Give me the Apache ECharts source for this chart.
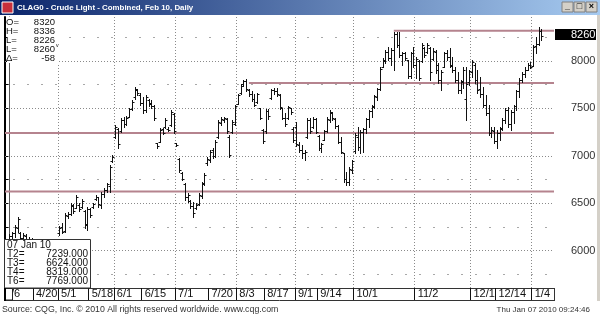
<!DOCTYPE html>
<html><head><meta charset="utf-8">
<script src="https://cdn.jsdelivr.net/npm/echarts@6/dist/echarts.min.js"></script>
<style>html,body{margin:0;padding:0;background:#fff;overflow:hidden}#c{width:600px;height:317px}</style>
</head><body><div id="c"></div>
<script>
// ---- data (CLAG0 daily OHLC, 6 Apr 2009 .. 7 Jan 2010), one line per month ----
const openP = [
 6090,6150,6180,6240,6180,6130,6150,6090,6040,6040,5880,5900,5990,5960,5990,5880,5950,6060,
 6180,6250,6210,6360,6390,6470,6450,6480,6460,6420,6280,6440,6460,6540,6560,6480,6600,6640,6680,6950,
 7200,7280,7260,7380,7340,7410,7490,7620,7690,7640,7560,7480,7590,7560,7520,7130,7150,7280,7300,7280,7320,7440,
 7130,6970,6820,6700,6560,6520,6470,6450,6490,6580,6700,6920,6960,7060,7000,7200,7350,7380,7390,7200,7250,7340,
 7550,7660,7760,7790,7690,7650,7600,7570,7500,7270,7260,7470,7610,7690,7680,7640,7500,7400,7400,7500,7280,
 7300,7110,7060,7030,7200,7380,7300,7390,7210,7080,7170,7260,7380,7450,7390,7310,7150,7029,6760,6720,6850,
 7050,7200,7090,7250,7280,7390,7470,7510,7620,7700,7940,8000,8100,8030,8120,8280,8170,8060,8080,8010,7840,8080,
 7960,8000,8000,8140,8100,8140,8020,8100,7960,7800,7940,8080,8040,7960,7900,7800,7690,7790,7600,7780,
 7880,7960,7800,7700,7650,7540,7450,7240,7260,7160,7240,7290,7380,7480,7330,7460,7520,7680,7800,7860,7910,7960,
 7950,8160,8180,8320
];
const highP = [
 6170,6196,6270,6354,6196,6185,6170,6143,6133,6060,5950,6020,6050,6070,6020,5950,6080,6100,
 6260,6290,6396,6407,6502,6490,6586,6500,6540,6430,6460,6449,6502,6586,6565,6618,6660,6713,6903,7008,
 7325,7295,7399,7410,7420,7504,7589,7726,7700,7660,7620,7641,7600,7590,7536,7135,7293,7293,7399,7300,7483,7451,
 7135,6980,6830,6715,6607,6534,6512,6500,6607,6725,6818,6985,7061,7082,7167,7378,7409,7409,7399,7220,7378,7540,
 7652,7757,7800,7810,7705,7684,7652,7662,7504,7283,7494,7494,7705,7715,7715,7652,7504,7451,7525,7504,7300,
 7360,7145,7114,7061,7399,7399,7409,7399,7219,7135,7272,7409,7483,7462,7399,7325,7198,7029,6829,6882,6955,
 7240,7304,7272,7293,7399,7483,7536,7641,7715,7937,8032,8116,8148,8137,8306,8306,8306,8095,8095,8011,8095,8148,
 8042,8011,8190,8148,8190,8148,8137,8116,7979,7905,8095,8116,8137,8042,7937,7884,7800,7937,7937,7905,
 8011,7979,7905,7831,7726,7641,7536,7304,7304,7272,7304,7399,7504,7515,7483,7536,7694,7821,7884,7937,7979,7989,
 8169,8250,8359,8336
];
const lowP = [
 6060,6133,6143,6200,6111,6090,6060,6020,5990,5850,5800,5880,5930,5920,5850,5820,5930,5980,
 6160,6185,6200,6344,6375,6396,6449,6420,6449,6240,6217,6354,6449,6534,6460,6449,6565,6618,6618,6934,
 7190,7082,7250,7300,7325,7409,7483,7600,7640,7540,7451,7462,7530,7500,7378,7082,7145,7230,7293,7260,7315,7240,
 7100,6830,6745,6534,6512,6450,6354,6440,6480,6555,6692,6900,6934,6977,6987,7188,7325,7360,7240,6987,7240,7325,
 7546,7652,7740,7684,7630,7578,7526,7560,7388,7135,7240,7388,7600,7650,7630,7494,7388,7314,7388,7441,7150,
 7100,7040,6977,6955,7188,7240,7293,7240,7061,7040,7167,7251,7356,7378,7293,7135,7029,6723,6692,6692,6818,
 7029,7061,7029,7040,7240,7304,7409,7504,7589,7694,7937,7979,8011,7958,7905,8148,8042,7958,8011,7821,7821,7937,
 7821,7800,7989,8042,8084,7800,8011,7873,7768,7694,7937,8011,7937,7884,7778,7662,7662,7715,7378,7747,
 7831,7768,7662,7620,7515,7430,7219,7198,7135,7082,7167,7272,7346,7304,7272,7346,7483,7620,7778,7831,7905,7926,
 7942,8084,8170,8226
];
const closeP = [
 6150,6185,6250,6330,6130,6160,6080,6040,6100,5870,5900,5990,5960,6040,5880,5920,6060,6010,
 6240,6200,6370,6390,6480,6420,6560,6440,6520,6270,6440,6380,6490,6570,6490,6600,6640,6700,6880,6990,
 7300,7120,7380,7330,7400,7490,7570,7700,7660,7560,7480,7620,7550,7520,7400,7100,7270,7240,7380,7272,7460,7260,
 7110,6850,6760,6560,6590,6470,6400,6480,6590,6710,6800,6970,7040,7000,7150,7360,7390,7400,7260,7010,7360,7520,
 7640,7740,7790,7700,7650,7600,7540,7650,7400,7160,7470,7420,7690,7680,7650,7510,7400,7340,7510,7460,7170,
 7120,7060,7030,7040,7380,7260,7390,7250,7080,7120,7260,7390,7460,7400,7310,7150,7040,6760,6720,6860,6940,
 7220,7090,7250,7280,7390,7470,7520,7630,7700,7920,8010,8100,8030,8120,8280,8170,8060,8080,8030,7840,8080,7960,
 8020,7820,8170,8060,8170,7880,8110,7900,7800,7880,8080,8040,7950,7900,7800,7690,7780,7900,7760,7890,
 7990,7800,7690,7650,7540,7450,7240,7270,7160,7240,7280,7380,7480,7330,7460,7520,7680,7800,7860,7900,7960,7936,
 8151,8177,8318,8260
];
// x-axis tick labels and the bar index (trading day) each one marks
const tickLabels = ['/6','4/20','5/1','5/18','6/1','6/15','7/1','7/20','8/3','8/17','9/1','9/14','10/1','11/2','12/1','12/14','1/4'];
const tickIndex  = [0,9,18,29,38,48,60,72,82,92,103,111,124,146,166,175,188];
const monthStartIndex = [18,38,60,82,103,124,146,166,188];
const priceTicks = [6000,6500,7000,7500,8000];
const minorLevels = [5750,6250,6750,7250,7750,8250];
const trendNames  = ['T2','T3','T4','T6'];
const trendLevels = [7239,6624,8319,7769];
const trendStart  = [null,null,138,86];   // bar where a level line starts (null = whole width)
const snapshotDate = '07 Jan 10';

// ---- layout ----
const FONT = '"Liberation Sans", Arial, sans-serif';
const X_MIN = -1.54, X_MAX = 195.5, Y_MIN = 5605, Y_MAX = 8464;
const GRID = {left:5, right:46, top:17, bottom:29};
const BAR = '#111111', TREND = '#b5838e', GRIDC = '#8a8a8a';

const chart = echarts.init(document.getElementById('c'), null, {renderer:'canvas'});
const rows = openP.map((o,i)=>[i, o, highP[i], lowP[i], closeP[i]]);
const tickPos = tickIndex.map(i=>i-0.5);

function renderOHLC(params, api){
  const i = api.value(0);
  const pO = api.coord([i, api.value(1)]);
  const pH = api.coord([i, api.value(2)]);
  const pL = api.coord([i, api.value(3)]);
  const pC = api.coord([i, api.value(4)]);
  const x = Math.round(pH[0]) + 0.5;
  const yO = Math.round(pO[1]) + 0.5, yC = Math.round(pC[1]) + 0.5;
  const st = {stroke: BAR, lineWidth: 1};
  return {type:'group', children:[
    {type:'line', shape:{x1:x, y1:Math.round(pH[1]), x2:x, y2:Math.round(pL[1])+1}, style:st},
    {type:'line', shape:{x1:x-2, y1:yO, x2:x, y2:yO}, style:st},
    {type:'line', shape:{x1:x, y1:yC, x2:x+2, y2:yC}, style:st}
  ]};
}

const gridMarks = []
  .concat(priceTicks.map(v=>({yAxis:v, lineStyle:{color:GRIDC, width:1, type:[1,2]}})))
  .concat(minorLevels.map(v=>({yAxis:v, lineStyle:{color:'#a8a8a8', width:1, type:[2,12], dashOffset:6}})))
  .concat(monthStartIndex.map(i=>({xAxis:i-0.5, lineStyle:{color:GRIDC, width:1, type:[1,2]}})));

const trendSeries = trendLevels.map((lv,k)=>({
  type:'line', name:trendNames[k], silent:true, symbol:'none', z:2, animation:false,
  data:[[trendStart[k]===null ? X_MIN : trendStart[k], lv],[X_MAX, lv]],
  lineStyle:{color:TREND, width:2}
}));

chart.setOption({
  animation:false,
  backgroundColor:'#ffffff',
  grid:{left:GRID.left, right:GRID.right, top:GRID.top, bottom:GRID.bottom, show:false},
  xAxis:{type:'value', min:X_MIN, max:X_MAX, splitLine:{show:false},
    axisLine:{show:true, onZero:false, lineStyle:{color:'#333', width:1}},
    axisTick:{show:true, inside:false, length:12, customValues:tickPos, lineStyle:{color:'#111'}},
    axisLabel:{customValues:tickPos, align:'left', verticalAlign:'middle', margin:6, padding:[0,0,0,3],
      fontSize:11, fontFamily:FONT, color:'#111',
      formatter:(v)=>{const k=tickPos.indexOf(v); return k>=0?tickLabels[k]:'';}}
  },
  yAxis:[
    {type:'value', position:'right', min:Y_MIN, max:Y_MAX, splitLine:{show:false},
      axisLine:{show:true, lineStyle:{color:'#555', width:1}},
      axisTick:{show:true, inside:true, length:3, customValues:minorLevels.concat(priceTicks), lineStyle:{color:'#555'}},
      axisLabel:{customValues:priceTicks, margin:17, fontSize:11, fontFamily:FONT, color:'#333',
        formatter:(v)=> (v%500===0 ? String(v) : '')}},
    {type:'value', position:'left', min:Y_MIN, max:Y_MAX, splitLine:{show:false},
      axisLine:{show:true, lineStyle:{color:'#000', width:2}},
      axisTick:{show:true, inside:true, length:3, customValues:minorLevels.concat(priceTicks), lineStyle:{color:'#000'}},
      axisLabel:{show:false}}
  ],
  series:[
    {type:'custom', name:'CLAG0', renderItem:renderOHLC, data:rows, z:3, clip:true,
     encode:{x:0, y:[1,2,3,4]}, silent:true,
     markLine:{silent:true, symbol:'none', z:1, animation:false, label:{show:false}, data:gridMarks}}
  ].concat(trendSeries)
});

// ---- overlay: window chrome, info panels, price flag ----
const last = closeP.length-1;
const yLast = chart.convertToPixel({yAxisIndex:0}, closeP[last]);
const txt = (id,x,y,text,opt)=>Object.assign({type:'text', id, x, y, z:110, silent:true,
  style:Object.assign({text, fill:'#111', font:'10px '+FONT, align:'left', verticalAlign:'middle'}, opt||{})});
const g = [];
// title bar
g.push({type:'rect', id:'tb', z:100, shape:{x:0,y:0,width:600,height:15},
  style:{fill:new echarts.graphic.LinearGradient(0,0,1,0,[{offset:0,color:'#0a246a'},{offset:1,color:'#a6caf0'}])}});
g.push({type:'rect', id:'icon', z:101, shape:{x:2,y:2,width:11,height:11}, style:{fill:'#c8303a', stroke:'#ffffff', lineWidth:1}});
g.push(txt('ttl',17,8,'CLAG0 - Crude Light - Combined, Feb 10, Daily',{fill:'#ffffff', font:'bold 7.9px '+FONT}));
['_','\u25A1','\u00D7'].forEach((s,k)=>{
  g.push({type:'rect', id:'btn'+k, z:101, shape:{x:562+k*12,y:2,width:11,height:10}, style:{fill:'#d4d0c8', stroke:'#808080', lineWidth:1}});
  g.push(txt('btt'+k,567.5+k*12,7,s,{align:'center', font:'bold 9px '+FONT, fill:'#000'}));
});
// right frame edge
g.push({type:'rect', id:'rf', z:100, shape:{x:597,y:15,width:3,height:286}, style:{fill:'#d4d0c8'}});
// top-left quote panel
g.push({type:'rect', id:'qbg', z:100, shape:{x:7,y:17,width:52,height:46}, style:{fill:'#ffffff'}});
const qLab = ['O=','H=','L=','L=','\u0394='];
const qVal = [openP[last], highP[last], lowP[last], closeP[last], closeP[last]-closeP[last-1]];
qLab.forEach((s,k)=>{
  g.push(txt('ql'+k,6,22+k*9,s,{font:'9.5px '+FONT}));
  g.push(txt('qv'+k,55,22+k*9,String(qVal[k]),{align:'right', font:'9.5px '+FONT}));
});
g.push(txt('qm',56,47,'\u1D5B',{font:'8px '+FONT}));
// bottom-left trend-level panel
g.push({type:'rect', id:'tbx', z:100, shape:{x:4.5,y:239.5,width:86,height:48.5}, style:{fill:'#ffffff', stroke:'#333', lineWidth:1}});
g.push(txt('td',7,245,snapshotDate,{font:'10px '+FONT}));
trendNames.forEach((n,k)=>{
  g.push(txt('tn'+k,7,254+k*9,n+'=',{font:'10px '+FONT}));
  g.push(txt('tv'+k,88,254+k*9,trendLevels[k].toFixed(3),{align:'right', font:'10px '+FONT}));
});
// x label strip frame
g.push({type:'line', id:'sb', z:100, shape:{x1:5,y1:300.5,x2:554,y2:300.5}, style:{stroke:'#333', lineWidth:1}});
g.push({type:'line', id:'sr', z:100, shape:{x1:554.5,y1:288,x2:554.5,y2:301}, style:{stroke:'#333', lineWidth:1}});
g.push({type:'rect', id:'sbox', z:100, shape:{x:4.5,y:288.5,width:8,height:11.5}, style:{fill:'#ffffff', stroke:'#222', lineWidth:1}});
g.push({type:'line', id:'sl', z:101, shape:{x1:5,y1:288,x2:5,y2:301}, style:{stroke:'#000', lineWidth:2}});
// last price flag
g.push({type:'rect', id:'pf', z:100, shape:{x:555,y:Math.round(yLast)-7,width:41,height:11}, style:{fill:'#000000'}});
g.push(txt('pft',571,Math.round(yLast)-1.5,String(closeP[last]),{fill:'#ffffff', font:'11px '+FONT}));
// footer
g.push(txt('src',2,310,'Source: CQG, Inc. \u00A9 2010 All rights reserved worldwide. www.cqg.com',{fill:'#333', font:'8.8px '+FONT}));
g.push(txt('ts',590,310,'Thu Jan 07 2010 09:24:46',{fill:'#333', font:'8px '+FONT, align:'right'}));
chart.setOption({graphic:{elements:g}});
</script></body></html>
